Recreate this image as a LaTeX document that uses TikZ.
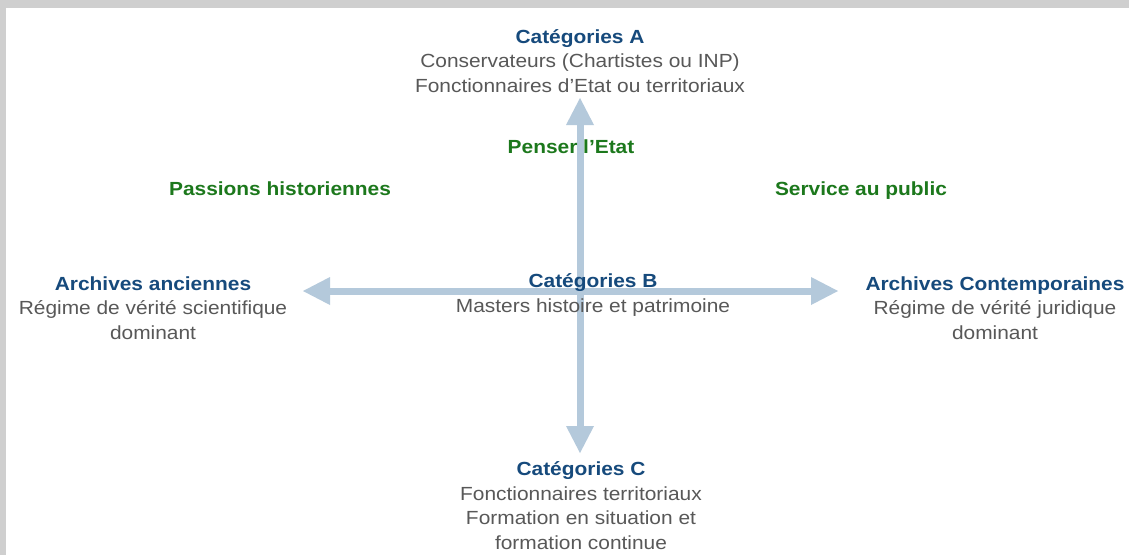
\documentclass[tikz,border=0pt]{standalone}
\usepackage{fontspec}
\setmainfont{Liberation Sans}[FakeStretch=1.1]
\usetikzlibrary{arrows.meta, positioning}

\definecolor{framegray}{RGB}{207,207,207}
\definecolor{titleblue}{RGB}{22,74,124}
\definecolor{bodygray}{RGB}{88,88,88}
\definecolor{themegreen}{RGB}{28,120,28}
\definecolor{axisblue}{RGB}{180,201,219}

\begin{document}
\begin{tikzpicture}[
        x=1pt, y=-1pt,
        % Global Styles
        block/.style={align=center, anchor=base, inner sep=0pt, text=bodygray, font=\fontsize{19}{24.5}\selectfont}, % base = last line
        theme/.style={anchor=base, inner sep=0pt, text=themegreen, font=\fontsize{19}{24.5}\selectfont\bfseries},
        axis/.style={draw=axisblue, line width=7pt, {Triangle[length=27pt, width=28pt, line width=0pt]}-{Triangle[length=27pt, width=28pt, line width=0pt]}}
    ]

    % --- Frame ---
    \fill[framegray] (0,0) rectangle (1129,555);
    \fill[white] (6,8) rectangle (1129,555);

    % --- Axes ---
    \coordinate (centre) at (580,291);
    \coordinate [above=193pt of centre] (north);
    \coordinate [below=162pt of centre] (south);
    \coordinate [left=277pt of centre] (west);
    \coordinate [right=258pt of centre] (east);

    \draw [axis] (west) -- (east);
    \draw [axis] (south) -- (north);

    % --- Nodes ---

    % 1. Top
    \node [block] (catA) at (580,92) {\textcolor{titleblue}{\textbf{Catégories A}}\\Conservateurs (Chartistes ou INP)\\Fonctionnaires d’Etat ou territoriaux};

    % 2. Themes
    \node [theme] (penser) at (571,153) {Penser l’Etat};
    \node [theme] (passions) at (280,195) {Passions historiennes};
    \node [theme] (service) at (861,195) {Service au public};

    % 3. Middle row
    \node [block] (anciennes) at (153,339) {\textcolor{titleblue}{\textbf{Archives anciennes}}\\Régime de vérité scientifique\\dominant};
    \node [block] (catB) at (593,312) {\textcolor{titleblue}{\textbf{Catégories B}}\\Masters histoire et patrimoine};
    \node [block] (contemp) at (995,339) {\textcolor{titleblue}{\textbf{Archives Contemporaines}}\\Régime de vérité juridique\\dominant};

    % 4. Bottom
    \node [block] (catC) at (581,549) {\textcolor{titleblue}{\textbf{Catégories C}}\\Fonctionnaires territoriaux\\Formation en situation et\\formation continue};

\end{tikzpicture}
\end{document}
